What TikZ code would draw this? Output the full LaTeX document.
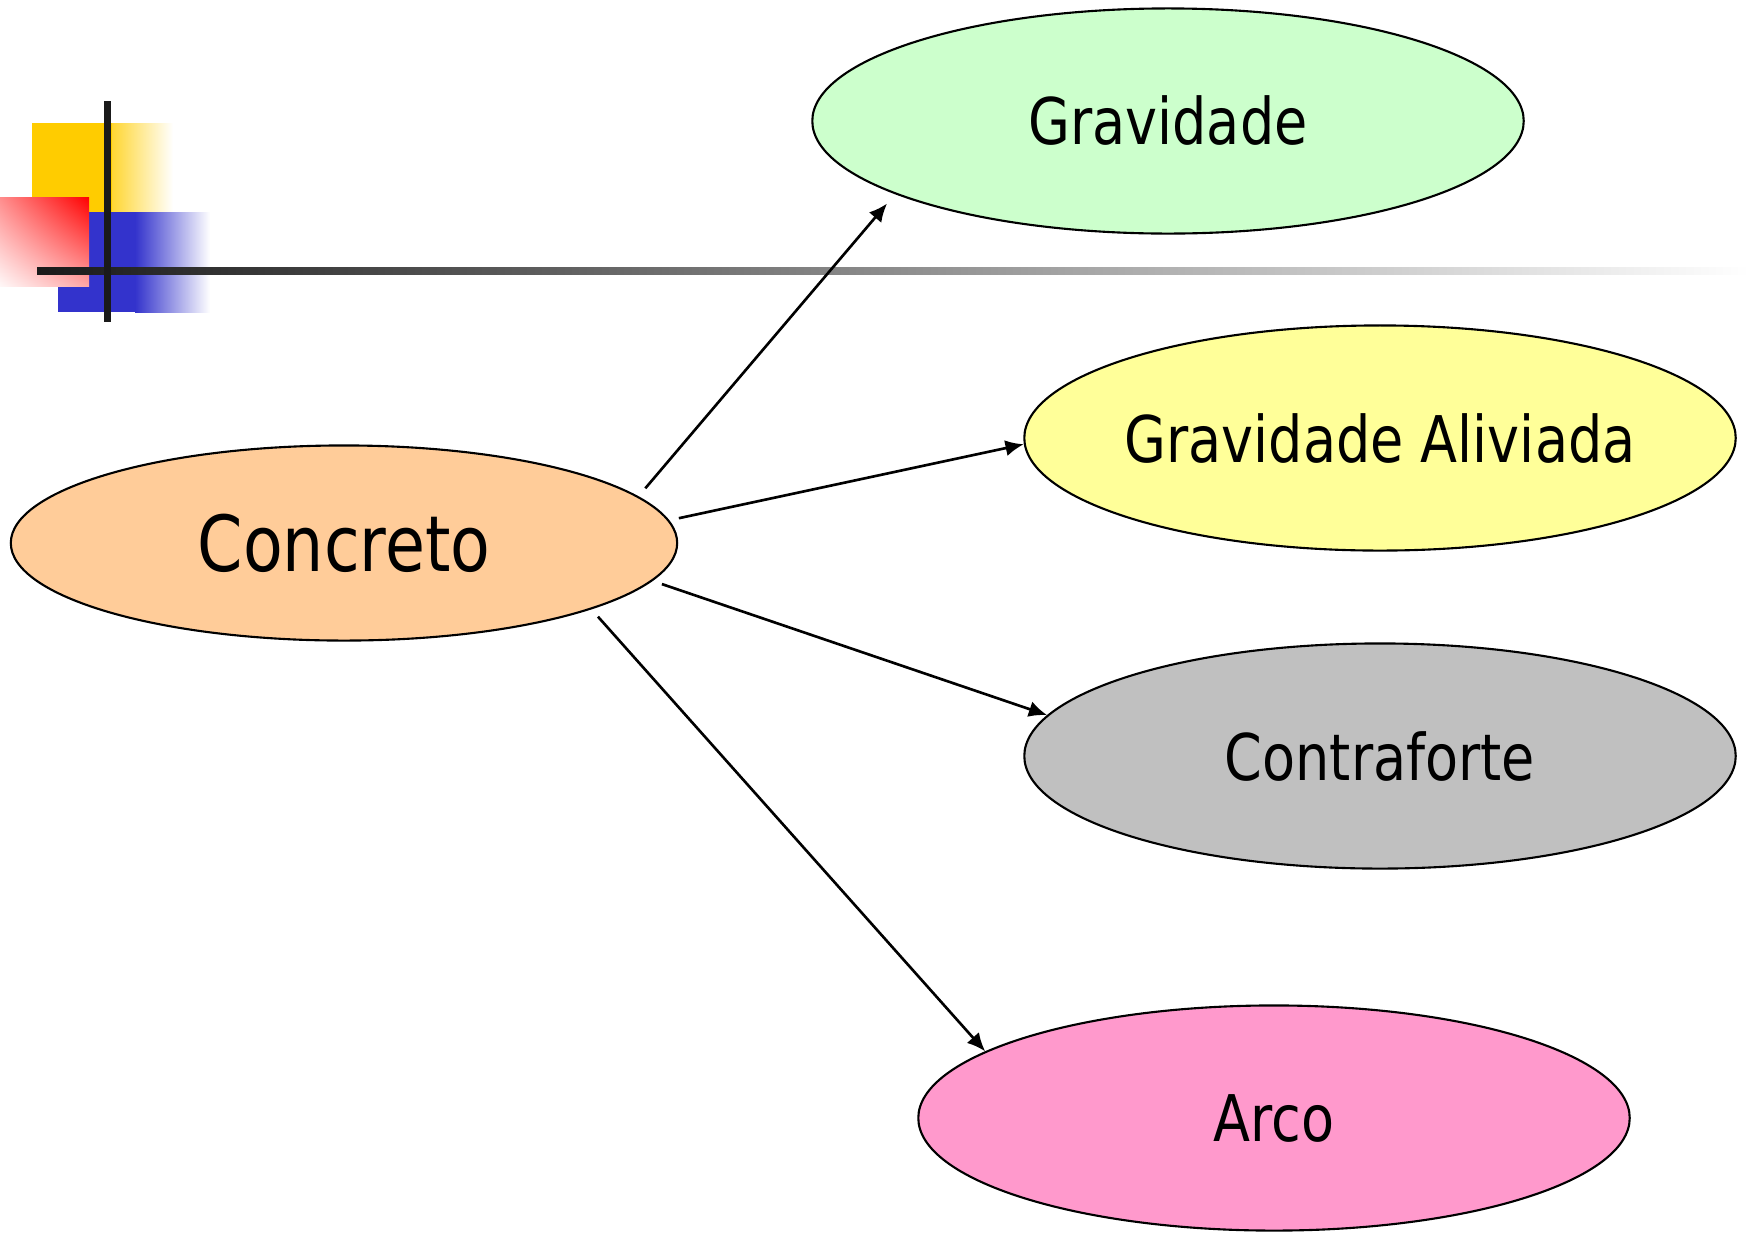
\documentclass[tikz,border=0pt]{standalone}
\usepackage{fontspec}
\setmainfont{DejaVu Sans}[FakeStretch=0.84]
\usetikzlibrary{shapes.geometric,arrows.meta,shadings}
\definecolor{logoyellow}{HTML}{FFCC00}
\definecolor{logoblue}{HTML}{3333CC}
\definecolor{logobar}{HTML}{1A1A1A}
\definecolor{gravgreen}{HTML}{CCFFCC}
\definecolor{alivyellow}{HTML}{FFFF99}
\definecolor{contragray}{HTML}{C0C0C0}
\definecolor{arcopink}{HTML}{FF99CC}
\definecolor{concorange}{HTML}{FFCC99}
\begin{document}
\begin{tikzpicture}[x=0.01cm,y=-0.01cm,
oval/.style={%
draw,
ellipse,
line width=0.6pt,
inner xsep=-1cm,
inner ysep=0pt,
minimum width=7.11cm,
minimum height=2.25cm,
font=\fontsize{18.3}{22}\selectfont
},
link/.style={-{Latex[length=5.2pt,width=4.6pt]},line width=0.75pt,shorten <=2.8pt}
]
\useasboundingbox(0,0)rectangle(1749,1233);
%% Logo
\fill[logoyellow](32,123)rectangle(112,212);
\shade[left color=logoyellow!80!white,right color=white](112,123)rectangle(173,212);
\fill[logoblue](58,212)rectangle(135,312);
\shade[left color=logoblue,right color=white](135,212)rectangle(210,312);
\shade[upper right=red,upper left=red!45,lower left=red!3,lower right=red!35](0,197)rectangle(89,286);
\shade[left color=logobar,right color=white](37,267)rectangle(1749,274);
\fill[logobar](104,101)rectangle(111,322);
%% Types
\node[oval,fill=gravgreen]at(1168,121)(grav){Gravidade};
\node[oval,fill=alivyellow]at(1380,438)(aliv){Gravidade Aliviada};
\node[oval,fill=contragray]at(1380,756)(contra){Contraforte};
\node[oval,fill=arcopink]at(1274,1118)(arco){Arco};
%% Material
\node[oval,fill=concorange,minimum width=6.66cm,minimum height=1.95cm,
font=\fontsize{22}{26}\selectfont]at(344,543)(conc){Concreto};
%% Links
\draw[link,shorten <=3pt,shorten >=3.5pt](conc.9)--(grav.195);
\draw[link](conc.4)--(aliv.181);
\draw[link](conc.353)--(contra.173);
\draw[link](conc.345)--(arco.167);
\end{tikzpicture}
\end{document}
